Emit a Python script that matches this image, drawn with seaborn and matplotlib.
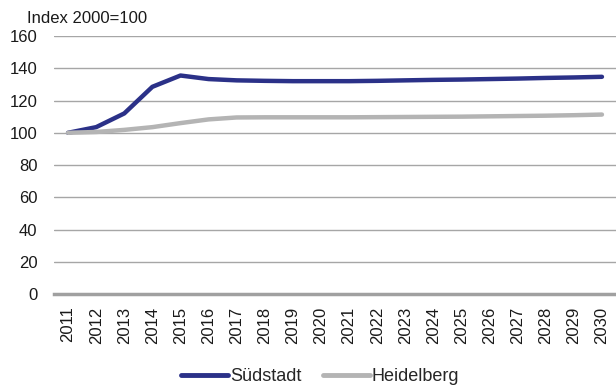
import pandas as pd
import matplotlib
matplotlib.use('Agg')
import matplotlib.pyplot as plt
import seaborn as sns

# Data
years = list(range(2011, 2031))
suedstadt = [100, 103.5, 112, 128.5, 135.5, 133.3, 132.5, 132.2, 132, 132,
             132, 132.2, 132.5, 132.8, 133, 133.3, 133.6, 134, 134.3, 134.7]
heidelberg = [100, 100.5, 101.8, 103.5, 106, 108.3, 109.5, 109.6, 109.6, 109.6,
              109.6, 109.7, 109.8, 109.9, 110, 110.2, 110.4, 110.6, 110.9, 111.3]
series_names = ['Südstadt', 'Heidelberg']
colors = ['#2b3188', '#b4b4b4']

df = pd.DataFrame({
    'Jahr': years * 2,
    'Index': suedstadt + heidelberg,
    'Gebiet': [series_names[0]] * len(years) + [series_names[1]] * len(years),
})

sns.set_style('white')
plt.rcParams['font.family'] = ['Liberation Sans', 'DejaVu Sans']

fig = plt.figure(figsize=(6.16, 3.87), dpi=100)
ax = fig.add_axes([0.0877, 0.240, 0.9123, 0.667])

sns.lineplot(data=df, x='Jahr', y='Index', hue='Gebiet', hue_order=series_names,
             palette=colors, linewidth=3.2, ax=ax, legend=False,
             solid_capstyle='round')

ax.set_xlim(2010.5, 2030.5)
ax.set_ylim(0, 160)
ax.set_yticks(range(0, 161, 20))
ax.set_xticks(years)
ax.set_xticklabels([str(y) for y in years], rotation=90)
ax.tick_params(axis='both', labelsize=12, colors='#1a1a1a', length=0)
ax.tick_params(axis='y', pad=12)
ax.tick_params(axis='x', pad=9)
ax.set_xlabel('')
ax.set_ylabel('')

ax.grid(axis='y', color='#a6a6a6', linewidth=1.0)
ax.grid(axis='x', visible=False)
ax.set_axisbelow(True)
for side in ['top', 'right', 'left']:
    ax.spines[side].set_visible(False)
ax.spines['bottom'].set_color('#a0a0a0')
ax.spines['bottom'].set_linewidth(2.5)

fig.text(0.044, 0.953, 'Index 2000=100', fontsize=12, color='#1a1a1a', va='center')

handles = [plt.Line2D([], [], color=c, linewidth=3.5, solid_capstyle='round') for c in colors]
fig.legend(handles, series_names, loc='center', bbox_to_anchor=(0.52, 0.026), ncol=2,
           frameon=False, fontsize=13, handlelength=2.6, handletextpad=0.1,
           columnspacing=1.2)

fig.savefig('out.png', dpi=100)
